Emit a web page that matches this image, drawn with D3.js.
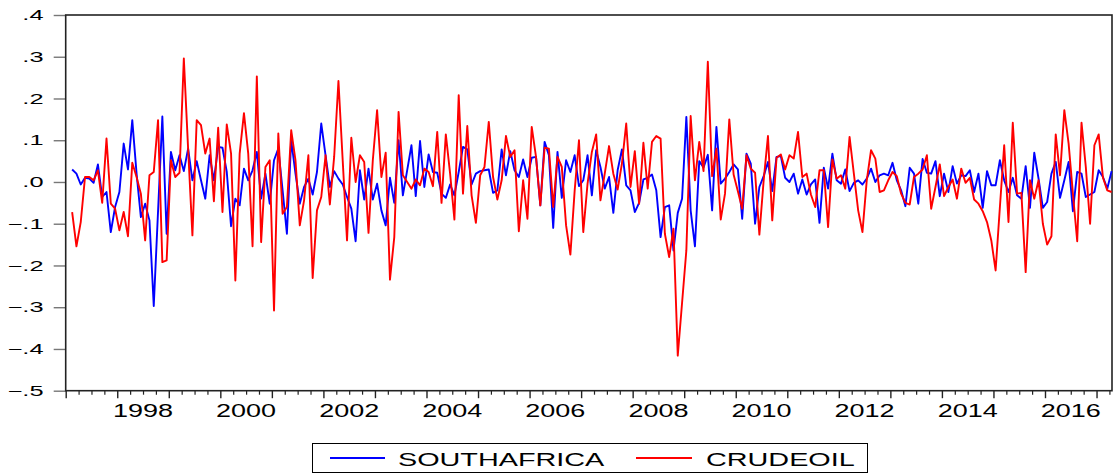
<!DOCTYPE html>
<html><head><meta charset="utf-8">
<script src="https://cdn.jsdelivr.net/npm/d3@7"></script>
<style>
body{margin:0;background:#fff}
svg{display:block}
text{font-family:"Liberation Sans",Arial,Helvetica,sans-serif;fill:#000}
</style>
</head><body>
<svg id="chart" width="1118" height="474"></svg>
<script>
// ---- data (monthly, starting 1997M02) ----
const startYear = 1997, startMonth = 2;
const seriesNames = ["SOUTHAFRICA", "CRUDEOIL"];
const southAfrica = [
 0.030,0.020,-0.006,0.010,0.008,-0.002,0.042,-0.036,-0.024,-0.120,
 -0.060,-0.024,0.092,0.030,0.148,0.020,-0.084,-0.052,-0.092,-0.297,
 -0.070,0.157,-0.124,0.072,0.028,0.064,0.026,0.080,0.004,0.050,
 0.004,-0.040,0.064,0.004,0.084,0.082,0.024,-0.106,-0.040,-0.056,
 0.032,0.004,0.028,0.072,-0.040,0.020,-0.052,0.052,0.080,-0.020,
 -0.124,0.100,0.020,-0.052,-0.012,0.008,-0.030,0.024,0.140,0.064,
 -0.012,0.026,0.008,-0.006,-0.036,-0.064,-0.142,0.028,-0.042,0.032,
 -0.042,-0.004,-0.068,-0.104,0.010,-0.050,0.100,-0.032,0.028,0.088,
 -0.034,0.098,-0.012,0.066,0.024,0.022,-0.028,-0.038,-0.006,-0.032,
 0.024,0.084,0.078,-0.006,0.020,0.026,0.028,0.030,-0.026,-0.020,
 0.078,0.016,0.074,0.028,0.012,0.054,0.012,0.058,0.060,-0.056,
 0.096,0.064,-0.110,0.072,-0.038,0.052,0.024,0.064,-0.010,0.004,
 0.064,-0.032,0.076,0.036,-0.016,0.012,-0.074,0.028,0.078,-0.008,
 -0.020,-0.072,-0.050,0.006,0.010,0.018,-0.020,-0.132,-0.060,-0.056,
 -0.164,-0.074,-0.040,0.156,-0.068,-0.154,0.050,0.035,0.065,-0.068,
 0.132,-0.004,0.008,0.024,0.042,0.030,-0.088,0.068,0.044,-0.100,
 -0.012,0.014,0.048,-0.022,0.060,0.062,0.010,0.000,0.020,-0.028,
 0.006,-0.030,-0.006,0.006,-0.098,0.034,-0.016,0.068,0.004,-0.004,
 0.030,-0.022,-0.002,0.004,-0.006,0.008,0.032,0.000,0.016,0.020,
 0.016,0.046,0.004,-0.020,-0.058,0.034,0.020,-0.052,0.055,0.022,
 0.020,0.050,-0.034,0.020,-0.024,0.038,-0.004,0.016,0.014,0.028,
 -0.024,0.020,-0.062,0.026,-0.008,-0.008,0.052,0.004,-0.024,0.010,
 -0.032,-0.040,0.038,-0.062,0.070,0.008,-0.062,-0.048,0.020,0.048,
 -0.038,0.004,0.048,-0.070,0.024,0.020,-0.036,-0.030,-0.024,0.028,
 0.012,-0.016,0.026
];
const crudeOil = [
 -0.072,-0.154,-0.096,0.012,0.012,0.004,0.028,-0.050,0.104,-0.052,
 -0.064,-0.116,-0.072,-0.130,0.046,0.012,-0.028,-0.140,0.016,0.024,
 0.148,-0.192,-0.188,0.052,0.012,0.022,0.296,0.080,-0.128,0.148,
 0.136,0.068,0.104,-0.046,0.130,-0.072,0.138,0.068,-0.236,0.068,
 0.165,0.068,-0.154,0.253,-0.144,0.036,0.052,-0.308,0.116,-0.076,
 -0.060,0.124,0.052,-0.104,-0.044,0.064,-0.230,-0.068,-0.036,0.064,
 -0.054,0.060,0.242,0.050,-0.140,0.106,0.000,0.064,0.048,-0.122,
 0.052,0.172,0.012,0.070,-0.234,-0.132,0.168,0.016,0.000,-0.016,
 0.006,-0.008,0.032,0.024,-0.010,0.120,-0.050,0.114,0.020,-0.090,
 0.208,-0.028,0.134,-0.032,-0.098,0.016,0.036,0.144,0.012,-0.042,
 0.004,0.110,0.060,0.076,-0.118,0.004,-0.088,0.132,0.060,-0.056,
 0.082,0.080,-0.060,0.060,0.036,-0.104,-0.174,-0.020,0.100,-0.120,
 -0.004,0.072,0.114,-0.044,0.020,0.086,0.020,-0.018,0.044,0.140,
 -0.012,0.074,-0.052,0.094,-0.016,0.096,0.110,0.104,-0.124,-0.180,
 -0.112,-0.416,-0.290,-0.164,0.158,0.004,0.096,0.026,0.288,0.014,
 0.080,-0.090,-0.028,0.150,0.018,-0.022,-0.064,0.064,0.032,0.022,
 -0.126,0.004,0.110,-0.092,0.058,0.066,0.030,0.064,0.056,0.120,
 0.012,0.020,-0.030,-0.060,0.028,0.028,-0.108,0.054,0.008,0.016,
 -0.016,0.108,0.020,-0.068,-0.120,0.004,0.076,0.056,-0.024,-0.020,
 0.004,0.024,0.014,-0.028,-0.050,-0.054,0.012,0.020,0.030,0.064,
 -0.064,-0.012,0.042,-0.034,-0.012,0.006,-0.040,0.032,-0.002,0.010,
 -0.042,-0.052,-0.070,-0.096,-0.140,-0.212,-0.060,0.088,-0.096,0.142,
 -0.028,-0.026,-0.216,0.004,-0.040,0.004,-0.100,-0.150,-0.130,0.114,
 0.016,0.172,0.092,-0.028,-0.142,0.142,0.036,-0.100,0.088,0.114,
 0.010,-0.020,-0.024
];
const yTickValues = [0.4,0.3,0.2,0.1,0.0,-0.1,-0.2,-0.3,-0.4,-0.5];
const yearLabelValues = [1998,2000,2002,2004,2006,2008,2010,2012,2014,2016];
const colors = ["#0000ff", "#ff0000"];

// ---- layout ----
const svg = d3.select("#chart");
const L = 65.7, R = 1112, T = 15, B = 390.7;
const x = d3.scaleLinear().domain([1997, 2017.3]).range([L, R]);
const y = d3.scaleLinear().domain([-0.5, 0.4]).range([B, T]);
const tOf = i => startYear + (startMonth - 1 + i + 0.5) / 12;

// y axis ticks
const yAxis = svg.append("g").attr("transform", `translate(${L},0)`)
  .call(d3.axisLeft(y).tickValues(yTickValues).tickSize(12).tickFormat(""));
yAxis.select(".domain").remove();
yAxis.selectAll(".tick line").attr("stroke", "#777").attr("stroke-width", 1.4);

const fmtY = d => d3.format(".1f")(d).replace("0.", ".");
svg.append("g").selectAll("text").data(yTickValues).join("text")
  .attr("transform", d => `translate(43.5,${y(d)}) scale(1.75,1)`)
  .attr("text-anchor", "end").attr("dy", "0.36em")
  .style("font-size", "14.5px")
  .text(fmtY);

// x axis ticks (years major, quarters minor)
const years = d3.range(1997, 2018);
const quarters = d3.range(1997, 2017.3, 0.25).filter(q => q % 1 !== 0);
const xMinor = svg.append("g").attr("transform", `translate(0,${B})`)
  .call(d3.axisBottom(x).tickValues(quarters).tickSize(4).tickFormat(""));
xMinor.select(".domain").remove();
xMinor.selectAll(".tick line").attr("stroke", "#222").attr("stroke-width", 1.2);
const xMajor = svg.append("g").attr("transform", `translate(0,${B})`)
  .call(d3.axisBottom(x).tickValues(years).tickSize(7.5).tickFormat(""));
xMajor.select(".domain").remove();
xMajor.selectAll(".tick line").attr("stroke", "#222").attr("stroke-width", 1.4);

svg.append("g").selectAll("text").data(yearLabelValues).join("text")
  .attr("transform", d => `translate(${x(d + 0.5)},416.5) scale(1.5,1)`)
  .attr("text-anchor", "middle")
  .style("font-size", "18px")
  .text(d => d);

// frame
svg.append("rect").attr("x", L).attr("y", T).attr("width", R - L).attr("height", B - T)
  .attr("fill", "none").attr("stroke", "#222").attr("stroke-width", 1.6);

// series
const line = d3.line().x((d, i) => x(tOf(i))).y(d => y(d));
[southAfrica, crudeOil].forEach((s, k) => {
  svg.append("path").datum(s).attr("d", line)
    .attr("fill", "none").attr("stroke", colors[k]).attr("stroke-width", 1.9)
    .attr("stroke-linejoin", "round");
});

// legend
const lg = svg.append("g");
lg.append("rect").attr("x", 312.5).attr("y", 443.5).attr("width", 555).attr("height", 29)
  .attr("fill", "#fff").attr("stroke", "#000").attr("stroke-width", 1);
const legendItems = [
  {name: seriesNames[0], color: colors[0], x0: 330, x1: 385, tx: 398},
  {name: seriesNames[1], color: colors[1], x0: 636, x1: 692, tx: 706}
];
legendItems.forEach(it => {
  lg.append("line").attr("x1", it.x0).attr("x2", it.x1).attr("y1", 458).attr("y2", 458)
    .attr("stroke", it.color).attr("stroke-width", 1.9);
  lg.append("text").attr("transform", `translate(${it.tx},465.5) scale(1.6,1)`)
    .style("font-size", "18px").text(it.name);
});
</script>
</body></html>
